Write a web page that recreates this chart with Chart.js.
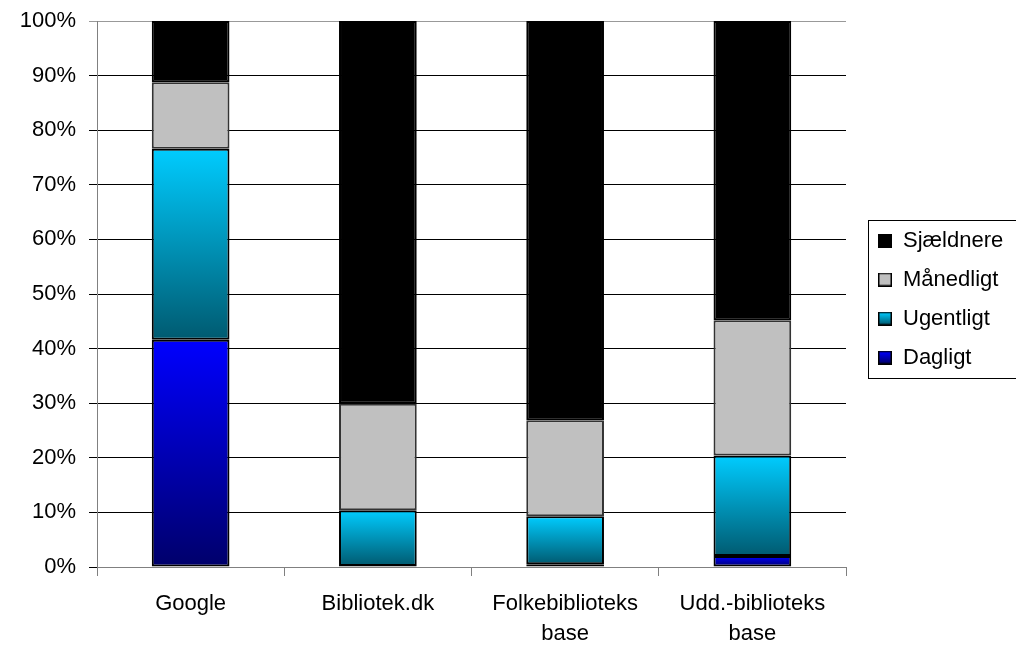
<!DOCTYPE html>
<html>
<head>
<meta charset="utf-8">
<script src="https://cdn.jsdelivr.net/npm/chart.js@4/dist/chart.umd.min.js"></script>
<style>
html,body{margin:0;padding:0;background:#fff;}
#c{display:block;}
</style>
</head>
<body>
<canvas id="c" width="1016" height="645"></canvas>
<script>
const categories = ["Google", ["Bibliotek.dk"], ["Folkebiblioteks", "base"], ["Udd.-biblioteks", "base"]];
const seriesNames = ["Dagligt", "Ugentligt", "Månedligt", "Sjældnere"];
const dagligt   = [41.6, 0.2, 0.5, 2.0];
const ugentligt = [35.0, 10.2, 8.8, 18.4];
const maanedligt = [12.2, 19.5, 17.6, 24.8];
const sjaeldnere = [11.2, 70.1, 73.1, 54.8];
const yTicks = [0,10,20,30,40,50,60,70,80,90,100];

const allSeries = [dagligt, ugentligt, maanedligt, sjaeldnere];
const gradStops = [
  ["#0000FF", "#00006A"],
  ["#00CCFF", "#005A70"],
  null,
  null
];
const solid = ["#0000FF", "#00B8E0", "#C0C0C0", "#000000"];
const FONT = "'Liberation Sans', Arial, sans-serif";

function bgFor(si) {
  return function(ctx) {
    if (!gradStops[si]) return solid[si];
    const chart = ctx.chart;
    if (!chart.chartArea || ctx.dataIndex === undefined) return solid[si];
    const ys = chart.scales.y;
    let below = 0;
    for (let k = 0; k < si; k++) below += allSeries[k][ctx.dataIndex];
    const top = below + allSeries[si][ctx.dataIndex];
    const yTop = ys.getPixelForValue(top);
    const yBot = ys.getPixelForValue(below);
    if (!(yBot - yTop > 0.5)) return gradStops[si][0];
    const g = chart.ctx.createLinearGradient(0, yTop, 0, yBot);
    g.addColorStop(0, gradStops[si][0]);
    g.addColorStop(1, gradStops[si][1]);
    return g;
  };
}

function marker(si) {
  const cv = document.createElement('canvas');
  cv.width = 14; cv.height = 14;
  const c = cv.getContext('2d');
  if (gradStops[si]) {
    const g = c.createLinearGradient(0, 1, 0, 13);
    g.addColorStop(0, gradStops[si][0]);
    g.addColorStop(1, gradStops[si][1]);
    c.fillStyle = g;
  } else c.fillStyle = solid[si];
  c.fillRect(0, 0, 14, 14);
  c.strokeStyle = "#000";
  c.lineWidth = 1.5;
  c.strokeRect(0.75, 0.75, 12.5, 12.5);
  return cv;
}

const datasets = allSeries.map((arr, si) => ({
  label: seriesNames[si],
  data: arr,
  backgroundColor: bgFor(si),
  borderColor: si === 2 ? "#333333" : "#000000",
  borderWidth: 2,
  borderSkipped: false,
  barPercentage: 0.83,
  categoryPercentage: 0.5,
  pointStyle: marker(si)
}));

const legendTweak = {
  id: 'legendTweak',
  beforeLayout(chart) {
    const lg = chart.legend;
    if (lg && !lg._patched) {
      const orig = lg.fit;
      lg.fit = function() { orig.call(this); this.width = 170; };
      lg._patched = true;
    }
  },
  afterLayout(chart) {
    const lg = chart.legend;
    if (lg) {
      lg.left = 861; lg.right = 861 + 170;
      lg.top -= 34; lg.bottom -= 34;
    }
  },
  afterDraw(chart) {
    const c = chart.ctx;
    c.save();
    c.strokeStyle = "#000";
    c.lineWidth = 1;
    c.strokeRect(868.5, 220.5, 160, 158);
    c.restore();
  }
};

new Chart(document.getElementById('c'), {
  type: 'bar',
  data: { labels: categories, datasets: datasets },
  plugins: [legendTweak],
  options: {
    responsive: false,
    animation: false,
    devicePixelRatio: 1,
    layout: { padding: { left: 0, top: 21, right: 0, bottom: 0 } },
    plugins: {
      tooltip: { enabled: false },
      legend: {
        position: 'right',
        reverse: true,
        align: 'center',
        labels: {
          usePointStyle: true,
          boxWidth: 14,
          boxHeight: 14,
          padding: 17,
          color: "#000",
          font: { family: FONT, size: 22 }
        }
      }
    },
    scales: {
      x: {
        stacked: true,
        afterFit(scale) { scale.height = 78; },
        grid: { display: true, drawOnChartArea: false, drawTicks: true, tickLength: 9, color: "#808080", offset: true },
        border: { display: true, color: "#808080", width: 1 },
        ticks: {
          color: "#000",
          padding: 13,
          maxRotation: 0,
          autoSkip: false,
          font: { family: FONT, size: 22, lineHeight: 1.36 }
        }
      },
      y: {
        stacked: true,
        min: 0,
        max: 100,
        afterBuildTicks(scale) { scale.ticks = yTicks.map(v => ({ value: v })); },
        afterFit(scale) { scale.width = 97; scale.paddingTop = 0; scale.paddingBottom = 0; },
        grid: {
          color: ctx => ctx.tick && ctx.tick.value === 100 ? "#999999" : "#000000",
          lineWidth: 1,
          tickLength: 8
        },
        border: { display: true, color: "#808080", width: 1 },
        ticks: {
          color: "#000",
          padding: 13,
          callback: v => v + "%",
          font: { family: FONT, size: 22 }
        }
      }
    }
  }
});
</script>
</body>
</html>
